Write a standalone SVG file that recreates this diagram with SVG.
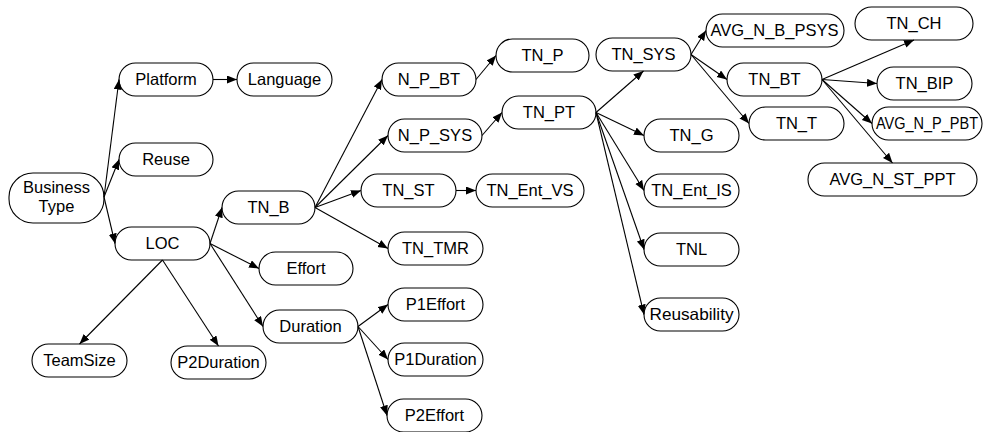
<svg xmlns="http://www.w3.org/2000/svg" width="984" height="432" viewBox="0 0 984 432">
<defs>
<style>
.n rect{fill:#fff;stroke:#000;stroke-width:1.1}
.n text{font-family:"Liberation Sans",Arial,sans-serif;font-size:16.5px;text-anchor:middle;fill:#000}
.e line{stroke:#000;stroke-width:1.1;marker-end:url(#a)}
</style>
<marker id="a" markerUnits="userSpaceOnUse" markerWidth="11" markerHeight="9" refX="10" refY="4" orient="auto" viewBox="0 0 11 9">
<path d="M0,0 L10,4 L0,8 Z" fill="#000"/>
</marker>
</defs>
<rect width="984" height="432" fill="#fff"/>
<g class="n">
<g id="BusinessType"><rect x="9" y="173" width="95" height="50" rx="24"/><text x="56.5" y="193">Business</text><text x="56.5" y="211.5">Type</text></g>
<g id="Platform"><rect x="119" y="63" width="94" height="33" rx="16.5"/><text x="166" y="85">Platform</text></g>
<g id="Language"><rect x="237" y="63" width="95" height="33" rx="16.5"/><text x="284.5" y="85">Language</text></g>
<g id="Reuse"><rect x="119" y="143" width="94" height="33" rx="16.5"/><text x="166" y="165">Reuse</text></g>
<g id="LOC"><rect x="115" y="227" width="95" height="33" rx="16.5"/><text x="162.5" y="249">LOC</text></g>
<g id="TN_B"><rect x="222" y="191" width="93" height="33" rx="16.5"/><text x="268.5" y="213">TN_B</text></g>
<g id="Effort"><rect x="259" y="252" width="94" height="33" rx="16.5"/><text x="306" y="274">Effort</text></g>
<g id="Duration"><rect x="263" y="310" width="95" height="33" rx="16.5"/><text x="310.5" y="332">Duration</text></g>
<g id="TeamSize"><rect x="32" y="344" width="95" height="33" rx="16.5"/><text x="79.5" y="366">TeamSize</text></g>
<g id="P2Duration"><rect x="171" y="346" width="95" height="33" rx="16.5"/><text x="218.5" y="368">P2Duration</text></g>
<g id="N_P_BT"><rect x="382" y="63" width="94" height="33" rx="16.5"/><text x="429" y="85">N_P_BT</text></g>
<g id="TN_P"><rect x="496" y="39" width="93" height="33" rx="16.5"/><text x="542.5" y="61">TN_P</text></g>
<g id="N_P_SYS"><rect x="388" y="119" width="94" height="33" rx="16.5"/><text x="435" y="141">N_P_SYS</text></g>
<g id="TN_PT"><rect x="502" y="96" width="94" height="33" rx="16.5"/><text x="549" y="118">TN_PT</text></g>
<g id="TN_ST"><rect x="361" y="174" width="95" height="33" rx="16.5"/><text x="408.5" y="196">TN_ST</text></g>
<g id="TN_Ent_VS"><rect x="476" y="174" width="108" height="33" rx="16.5"/><text x="530" y="196">TN_Ent_VS</text></g>
<g id="TN_TMR"><rect x="388" y="232" width="95" height="33" rx="16.5"/><text x="435.5" y="254">TN_TMR</text></g>
<g id="P1Effort"><rect x="388" y="288" width="95" height="33" rx="16.5"/><text x="435.5" y="310">P1Effort</text></g>
<g id="P1Duration"><rect x="388" y="343" width="95" height="33" rx="16.5"/><text x="435.5" y="365">P1Duration</text></g>
<g id="P2Effort"><rect x="387" y="399" width="95" height="33" rx="16.5"/><text x="434.5" y="421">P2Effort</text></g>
<g id="TN_SYS"><rect x="596" y="38" width="95" height="33" rx="16.5"/><text x="643.5" y="60">TN_SYS</text></g>
<g id="AVG_N_B_PSYS"><rect x="706" y="14" width="138" height="33" rx="16.5"/><text x="774.5" y="36" textLength="128" lengthAdjust="spacingAndGlyphs">AVG_N_B_PSYS</text></g>
<g id="TN_CH"><rect x="855" y="7" width="118" height="33" rx="16.5"/><text x="914" y="29">TN_CH</text></g>
<g id="TN_BT"><rect x="727" y="63" width="95" height="33" rx="16.5"/><text x="774.5" y="85">TN_BT</text></g>
<g id="TN_BIP"><rect x="877" y="67" width="95" height="33" rx="16.5"/><text x="924.5" y="89">TN_BIP</text></g>
<g id="TN_T"><rect x="749" y="107" width="95" height="33" rx="16.5"/><text x="796.5" y="129">TN_T</text></g>
<g id="AVG_N_P_PBT"><rect x="872" y="107" width="110" height="33" rx="16.5"/><text x="927" y="129" textLength="102" lengthAdjust="spacingAndGlyphs">AVG_N_P_PBT</text></g>
<g id="TN_G"><rect x="644" y="119" width="95" height="33" rx="16.5"/><text x="691.5" y="141">TN_G</text></g>
<g id="AVG_N_ST_PPT"><rect x="808" y="163" width="169" height="33" rx="16.5"/><text x="892.5" y="185">AVG_N_ST_PPT</text></g>
<g id="TN_Ent_IS"><rect x="644" y="174" width="95" height="33" rx="16.5"/><text x="691.5" y="196">TN_Ent_IS</text></g>
<g id="TNL"><rect x="644" y="233" width="95" height="33" rx="16.5"/><text x="691.5" y="255">TNL</text></g>
<g id="Reusability"><rect x="644" y="298" width="95" height="33" rx="16.5"/><text x="691.5" y="320" textLength="84" lengthAdjust="spacingAndGlyphs">Reusability</text></g>
</g>
<g id="connectors" class="e">
<line x1="104" y1="197" x2="119" y2="79.5"/>
<line x1="104" y1="197" x2="119" y2="159.5"/>
<line x1="104" y1="197" x2="115" y2="243.5"/>
<line x1="213" y1="79.5" x2="237" y2="79.5"/>
<line x1="210" y1="243.5" x2="222" y2="207.5"/>
<line x1="210" y1="243.5" x2="259" y2="268.5"/>
<line x1="210" y1="243.5" x2="263" y2="326.5"/>
<line x1="162.5" y1="260" x2="79.5" y2="344"/>
<line x1="162.5" y1="260" x2="218.5" y2="346"/>
<line x1="315" y1="207.5" x2="382" y2="79.5"/>
<line x1="315" y1="207.5" x2="388" y2="135.5"/>
<line x1="315" y1="207.5" x2="361" y2="190.5"/>
<line x1="315" y1="207.5" x2="388" y2="248.5"/>
<line x1="476" y1="79.5" x2="496" y2="55.5"/>
<line x1="482" y1="135.5" x2="502" y2="112.5"/>
<line x1="456" y1="190.5" x2="476" y2="190.5"/>
<line x1="358" y1="326.5" x2="388" y2="304.5"/>
<line x1="358" y1="326.5" x2="388" y2="359.5"/>
<line x1="358" y1="326.5" x2="387" y2="415.5"/>
<line x1="596" y1="112.5" x2="643.5" y2="71"/>
<line x1="596" y1="112.5" x2="644" y2="135.5"/>
<line x1="596" y1="112.5" x2="644" y2="190.5"/>
<line x1="596" y1="112.5" x2="644" y2="249.5"/>
<line x1="596" y1="112.5" x2="644" y2="314.5"/>
<line x1="691" y1="54.5" x2="706" y2="30.5"/>
<line x1="691" y1="54.5" x2="727" y2="79.5"/>
<line x1="691" y1="54.5" x2="749" y2="123.5"/>
<line x1="822" y1="79.5" x2="914" y2="40"/>
<line x1="822" y1="79.5" x2="877" y2="83.5"/>
<line x1="822" y1="79.5" x2="872" y2="123.5"/>
<line x1="822" y1="79.5" x2="892.5" y2="163"/>
</g>
</svg>
